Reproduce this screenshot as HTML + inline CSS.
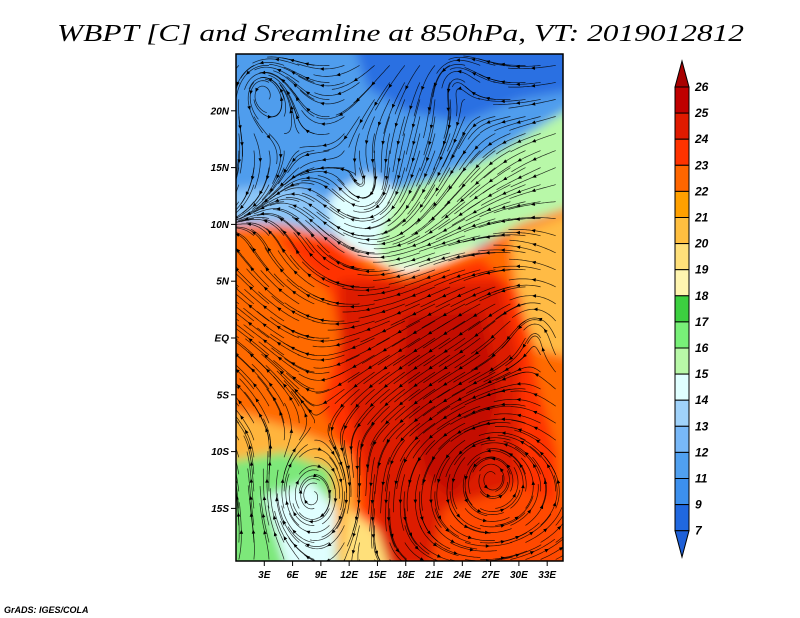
<!DOCTYPE html>
<html><head><meta charset="utf-8"><style>
html,body{margin:0;padding:0;background:#fff;}
svg{display:block;}
text{font-family:"Liberation Serif",serif;}
.tk{font-family:"Liberation Sans",sans-serif;font-weight:bold;font-style:italic;font-size:10px;}
</style></head><body>
<svg id="chart" width="800" height="618" viewBox="0 0 800 618" xmlns="http://www.w3.org/2000/svg">
<defs>
<clipPath id="mapclip"><rect x="236" y="54" width="327" height="507"/></clipPath>
<filter id="blur" x="-10%" y="-10%" width="120%" height="120%"><feGaussianBlur stdDeviation="5"/></filter>
</defs>
<text x="57" y="41" font-size="24" font-style="italic" textLength="687" lengthAdjust="spacingAndGlyphs">WBPT [C] and Sreamline at 850hPa, VT: 2019012812</text>
<g id="map" clip-path="url(#mapclip)">
<g id="fill" filter="url(#blur)"></g>
<g id="stream"></g>
</g>
<rect x="236" y="54" width="327" height="507" fill="none" stroke="#000" stroke-width="1.5"/>
<g id="yaxis"></g>
<g id="xaxis"></g>
<g id="cbar"></g>
<text x="4" y="613" class="tk" style="font-size:9px">GrADS: IGES/COLA</text>
</svg>
<script>
// axis tick data
const latTicks=[20,15,10,5,0,-5,-10,-15];
const latLabels=["20N","15N","10N","5N","EQ","5S","10S","15S"];
const lonTicks=[3,6,9,12,15,18,21,24,27,30,33];
const lonLabels=["3E","6E","9E","12E","15E","18E","21E","24E","27E","30E","33E"];
// colorbar data
const levelLabels=["26","25","24","23","22","21","20","19","18","17","16","15","14","13","12","11","9","7"];
const levelColors=["#c00000","#e01a00","#ff3300","#ff6600","#ffa000","#ffbf40","#ffe07a","#fff5b0","#3cd040","#78f078","#b8f8a8","#e0ffff","#a0d2fa","#78b8f8","#50a0f0","#3c90ee","#2068e0"];
const topColor="#a80000", botColor="#1e60d8";
// shaded regions (lon,lat) with colors
const regionColors=["#4f9ded","#2a70e2","#8cc6f8","#e0ffff","#b8f8a8","#ff6a00","#ffbb44","#ff3300","#dd1c00","#c40800","#ff4a00","#ffb53d","#7de87a","#e0ffff","#ffe07a"];
const regionShapes=[
 [[-2,27],[37,27],[37,8],[-2,8]],
 [[12,27],[37,27],[37,22],[30,21],[24,19],[18,20],[14,22]],
 [[-2,13],[6,13.5],[10,12],[12,9],[-2,9]],
 [[10,12.5],[14,14.5],[17,13],[17,8],[12,7.5],[10,10]],
 [[15,8],[17,13],[21,14],[27,16],[33,19],[37,21],[37,12],[31,10],[25,8],[20,6.5],[16,6.5]],
 [[-2,10],[5,10],[10,9],[14,7],[18,5.5],[22,6.5],[26,8],[30,10],[37,12],[37,-22],[-2,-22]],
 [[29,9],[37,11.5],[37,-2],[32,-1],[30,3]],
 [[4,9],[10,8.5],[14,6],[18,5],[26,7],[30,4],[32,-4],[34,-10],[35,-22],[14,-22],[13,-12],[9,-6],[11,0],[10,4]],
 [[11,5],[20,5],[28,5],[30,-2],[30,-12],[26,-17],[22,-20],[16,-20],[14,-12],[12,-6],[11,0]],
 [[18,2],[26,2.5],[28,-5],[26,-11],[23,-14],[20,-12],[18.5,-7],[17.5,-2]],
 [[22,-15],[30,-13],[35,-15],[35,-22],[20,-22]],
 [[-2,-6],[6,-8],[12,-10],[13,-22],[-2,-22]],
 [[-2,-11],[5,-10],[10,-11.5],[11,-22],[-2,-22]],
 [[3,-14],[8,-12.5],[10.5,-15],[10.5,-22],[6,-22]],
 [[12,-15],[15,-17],[17,-22],[11,-22]]
];
// streamline field features: vortex centres (lon,lat,strength) and background flow per latitude band
const vortices=[[2.5,22,0.8],[14,13,-0.4],[23,23,0.5],[8,-14,-0.9],[27,-12,0.3],[32,1,0.4]];
const bandLats=[25,15,8,0,-8,-20];
const bandU=[-1,-1.2,-0.9,-1,-1.2,0.5];
const bandV=[-0.5,-0.6,0.3,0.2,0.3,0.4];

function X(lon){return 236+lon*9.43;}
function Y(lat){return 338-lat*11.36;}
const NS="http://www.w3.org/2000/svg";
function mk(tag,attrs,parent){const e=document.createElementNS(NS,tag);for(const k in attrs)e.setAttribute(k,attrs[k]);parent.appendChild(e);return e;}

const fillG=document.getElementById('fill');
regionShapes.forEach((pts,i)=>{
 const p=mk('polygon',{points:pts.map(q=>X(q[0])+','+Y(q[1])).join(' '),fill:regionColors[i]},fillG);
 
 
});

function interp(arr,lat){
 if(lat>=bandLats[0])return arr[0];
 for(let i=0;i<bandLats.length-1;i++){
  if(lat<=bandLats[i]&&lat>=bandLats[i+1]){const t=(bandLats[i]-lat)/(bandLats[i]-bandLats[i+1]);return arr[i]*(1-t)+arr[i+1]*t;}
 }
 return arr[arr.length-1];
}
function field(lon,lat){
 let u=interp(bandU,lat),v=interp(bandV,lat);
 vortices.forEach(c=>{const dx=lon-c[0],dy=lat-c[1];const r2=dx*dx+dy*dy+4;const s=c[2]*8/r2;u+=-dy*s;v+=dx*s;});
 return [u,v];
}
const sG=document.getElementById('stream');
for(let lo=0.3;lo<35;lo+=1.6){
 for(let la=-19.5;la<25;la+=1.5){
  let x=lo,y=la,pts=[];
  for(let k=0;k<24;k++){
   pts.push([X(x),Y(y)]);
   const f=field(x,y);const m=Math.hypot(f[0],f[1])||1;
   x+=f[0]/m*0.22;y+=f[1]/m*0.22;
  }
  const p=mk('polyline',{points:pts.map(q=>q[0].toFixed(1)+','+q[1].toFixed(1)).join(' '),fill:'none',stroke:'#000','stroke-width':'0.7','stroke-opacity':'0.8'},sG);
  
  
  const a=pts[11],b=pts[12];const ang=Math.atan2(b[1]-a[1],b[0]-a[0])*180/Math.PI;
  const ar=mk('polygon',{points:'0,0 -4,-1.8 -4,1.8',fill:'#000',transform:`translate(${b[0].toFixed(1)},${b[1].toFixed(1)}) rotate(${ang.toFixed(1)})`},sG);
  
  
 }
}

const yG=document.getElementById('yaxis');
latTicks.forEach((lt,i)=>{
 const y=Y(lt);
 const l=mk('line',{x1:231,x2:236,y1:y,y2:y,stroke:'#000','stroke-width':1},yG);
 
 
 const t=mk('text',{x:229,y:y+3.5,'text-anchor':'end',class:'tk'},yG);
 t.textContent=latLabels[i];
 
 
});
const xG=document.getElementById('xaxis');
lonTicks.forEach((ln,i)=>{
 const x=X(ln);
 const l=mk('line',{x1:x,x2:x,y1:561,y2:566,stroke:'#000','stroke-width':1},xG);
 
 
 const t=mk('text',{x:x,y:578,'text-anchor':'middle',class:'tk'},xG);
 t.textContent=lonLabels[i];
 
 
});

const cG=document.getElementById('cbar');
const cx0=675,cx1=689,cTop=87,cStep=26.1;
const tt=mk('polygon',{points:`${cx0},${cTop} ${cx1},${cTop} ${(cx0+cx1)/2},61`,fill:topColor,stroke:'#000','stroke-width':1},cG);


levelColors.forEach((c,i)=>{
 const r=mk('rect',{x:cx0,y:cTop+i*cStep,width:cx1-cx0,height:cStep,fill:c,stroke:'#000','stroke-width':1},cG);
 
 
});
const bEnd=cTop+levelColors.length*cStep;
const bt=mk('polygon',{points:`${cx0},${bEnd} ${cx1},${bEnd} ${(cx0+cx1)/2},557`,fill:botColor,stroke:'#000','stroke-width':1},cG);


levelLabels.forEach((s,i)=>{
 const t=mk('text',{x:695,y:cTop+i*cStep+4,class:'tk',style:'font-size:12px'},cG);
 t.textContent=s;
 
 
});
</script>
</body></html>
